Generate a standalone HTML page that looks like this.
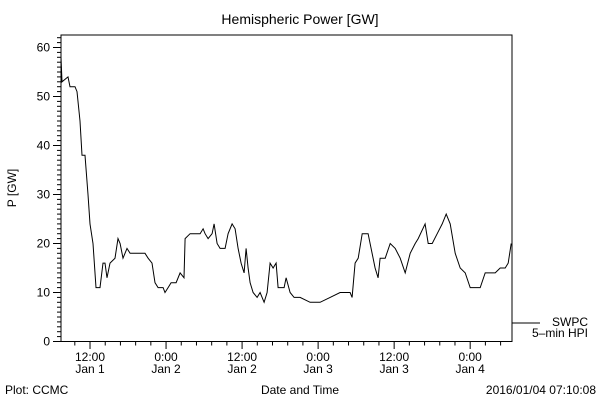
<!DOCTYPE html>
<html><head><meta charset="utf-8"><style>
body{margin:0;background:#fff;}
svg{display:block;font-family:"Liberation Sans",sans-serif;}
text{fill:#000;font-size:12px;}
</style></head><body>
<svg id="chart" width="600" height="400" viewBox="0 0 600 400">
<rect x="0" y="0" width="600" height="400" fill="#fff"/>
<text x="300" y="24" text-anchor="middle" font-size="14" style="font-size:14px">Hemispheric Power [GW]</text>
<text transform="translate(16,188) rotate(-90)" text-anchor="middle">P [GW]</text>
<text x="300" y="394" text-anchor="middle">Date and Time</text>
<text x="5" y="394">Plot: CCMC</text>
<text x="596" y="394" text-anchor="end">2016/01/04 07:10:08</text>
<rect x="61" y="35" width="451" height="306.5" fill="none" stroke="#000" stroke-width="1"/>
<g id="yaxis"></g>
<g id="xaxis"></g>
<g id="series"></g>
<line x1="512" y1="323" x2="540" y2="323" stroke="#000"/>
<text x="588" y="326" text-anchor="end">SWPC</text>
<text x="588" y="337" text-anchor="end">5–min HPI</text>
</svg>
<script>
const hours=[7.42,7.58,8.53,8.84,9.63,9.95,10.42,10.74,11.21,11.68,12,12.47,12.95,13.58,14.05,14.37,14.68,15.16,15.95,16.42,16.74,17.21,17.84,18.32,19.58,20.68,21.16,21.79,22.26,22.74,23.53,23.84,24.32,24.79,25.58,26.21,26.84,27.0,27.79,29.37,29.84,30.16,30.63,31.26,31.58,32.05,32.53,33.32,33.79,34.42,34.89,35.37,35.84,36.32,36.63,36.95,37.26,37.74,38.37,38.84,39.47,39.95,40.42,40.89,41.37,41.68,42.32,42.63,42.95,43.58,44.21,45.16,46.74,48.32,49.89,51.47,53.05,53.37,53.84,54.32,54.95,55.89,57.0,57.47,57.79,58.58,59.37,60.16,60.95,61.74,62.53,63.32,63.79,64.89,65.37,66.0,66.79,67.58,68.21,68.84,69.63,70.42,71.21,72.0,73.58,74.37,75.16,75.95,76.74,77.53,78.0,78.47];
const power=[58,53,54,52,52,51,45,38,38,30,24,20,11,11,16,16,13,16,17,21,20,17,19,18,18,18,17,16,12,11,11,10,11,12,12,14,13,21,22,22,23,22,21,22,24,20,19,19,22,24,23,19,16,14,19,15,12,10,9,10,8,10,16,15,16,11,11,11,13,10,9,9,8,8,9,10,10,9,16,17,22,22,15,13,17,17,20,19,17,14,18,20,21,24,20,20,22,24,26,24,18,15,14,11,11,14,14,14,15,15,16,20];
const yTicks=[0,10,20,30,40,50,60];
const xTickHours=[12,24,36,48,60,72];
const xTickTimes=["12:00","0:00","12:00","0:00","12:00","0:00"];
const xTickDays=["Jan 1","Jan 2","Jan 2","Jan 3","Jan 3","Jan 4"];
const NS="http://www.w3.org/2000/svg";
const X0=61,X1=512,HMIN=7.42,HMAX=78.6;
function xs(h){return X0+(h-HMIN)*(X1-X0)/(HMAX-HMIN);}
function ys(v){return 341.5-v*4.9;}
function mk(tag,attrs,parent){const e=document.createElementNS(NS,tag);for(const k in attrs)e.setAttribute(k,attrs[k]);parent.appendChild(e);return e;}
const ya=document.getElementById('yaxis'),xa=document.getElementById('xaxis'),se=document.getElementById('series');
for(let v=0;v<=62;v++){const y=ys(v);const major=v%10===0;
 const t=mk('line',{x1:major?53:57,x2:61,y1:y,y2:y,stroke:'#000'},ya);
 
 }
yTicks.forEach(v=>{const t=mk('text',{x:50,y:ys(v)+4,'text-anchor':'end'},ya);t.textContent=v;
 
 });
for(let h=HMIN-((HMIN)%2.4);h<=HMAX;h+=2.4){if(h<HMIN)continue;const major=Math.abs(h/12-Math.round(h/12))<0.01;const x=xs(h);
 const t=mk('line',{x1:x,x2:x,y1:341.5,y2:major?349:345.5,stroke:'#000'},xa);
 
 }
xTickHours.forEach((h,i)=>{const x=xs(h);
 const a=mk('text',{x:x,y:361,'text-anchor':'middle'},xa);a.textContent=xTickTimes[i];
 
 
 const b=mk('text',{x:x,y:373,'text-anchor':'middle'},xa);b.textContent=xTickDays[i];
 
 });
const pts=hours.map((h,i)=>xs(h).toFixed(1)+','+ys(power[i]).toFixed(1)).join(' ');
const pl=mk('polyline',{points:pts,fill:'none',stroke:'#000','stroke-width':1},se);


</script>
</body></html>
